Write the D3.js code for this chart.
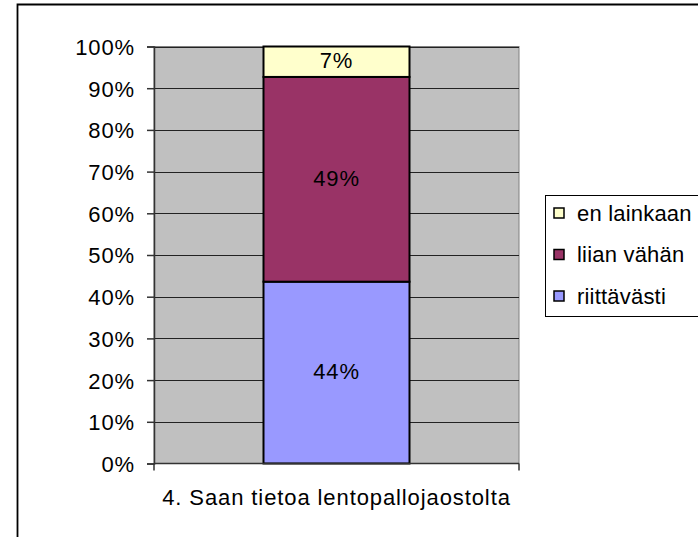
<!DOCTYPE html>
<html lang="fi">
<head>
<meta charset="utf-8">
<title>Saan tietoa lentopallojaostolta</title>
<script src="https://d3js.org/d3.v7.min.js"></script>
<style>
  body { margin: 0; background: #fff; }
  text { font-family: "Liberation Sans", Arial, sans-serif; fill: #000; letter-spacing: 0.9px; }
</style>
</head>
<body>
<script>
// data
var categories = ["4. Saan tietoa lentopallojaostolta"];
var seriesNames = ["riittävästi", "liian vähän", "en lainkaan"];
var seriesValues = [43.6, 49.1, 7.3];
var seriesLabels = ["44%", "49%", "7%"];
var seriesColors = ["#9999ff", "#993366", "#ffffcc"];
var yTicks = [0, 10, 20, 30, 40, 50, 60, 70, 80, 90, 100];

var width = 698, height = 537;
var plot = { left: 154, right: 519, top: 46.5, bottom: 463.5 };
var fs = 22;

var svg = d3.select("body").append("svg")
  .attr("width", width)
  .attr("height", height);

// outer frame
svg.append("path")
  .attr("d", "M17.5," + height + "V4.5H" + width)
  .attr("fill", "none")
  .attr("stroke", "#000")
  .attr("stroke-width", 1.8);

var x = d3.scaleBand()
  .domain(categories)
  .range([plot.left, plot.right])
  .paddingInner(0.6)
  .paddingOuter(0.3);

var y = d3.scaleLinear()
  .domain([0, 100])
  .range([plot.bottom, plot.top]);

// plot area
svg.append("rect")
  .attr("x", plot.left)
  .attr("y", plot.top)
  .attr("width", plot.right - plot.left)
  .attr("height", plot.bottom - plot.top)
  .attr("fill", "#c0c0c0")
  .attr("stroke", "#808080");

// gridlines
svg.append("g").selectAll("line")
  .data(yTicks.filter(function(d) { return d > 0; }))
  .enter().append("line")
  .attr("x1", plot.left)
  .attr("x2", plot.right)
  .attr("y1", function(d) { return Math.round(y(d)) + 0.5; })
  .attr("y2", function(d) { return Math.round(y(d)) + 0.5; })
  .attr("stroke", "#222")
  .attr("stroke-width", 1);

// stacked bars
var stackData = [{}];
seriesNames.forEach(function(n, i) { stackData[0][n] = seriesValues[i]; });
var stack = d3.stack().keys(seriesNames)(stackData);

var bars = svg.append("g");
stack.forEach(function(s, i) {
  var d = s[0];
  bars.append("rect")
    .attr("x", x(categories[0]))
    .attr("width", x.bandwidth())
    .attr("y", y(d[1]))
    .attr("height", y(d[0]) - y(d[1]))
    .attr("fill", seriesColors[i])
    .attr("stroke", "#000")
    .attr("stroke-width", 2);
  bars.append("text")
    .attr("x", x(categories[0]) + x.bandwidth() / 2)
    .attr("y", y((d[0] + d[1]) / 2))
    .attr("dy", "0.3em")
    .attr("text-anchor", "middle")
    .attr("font-size", fs)
    .text(seriesLabels[i]);
});

// y axis
var yAxis = svg.append("g")
  .attr("transform", "translate(" + plot.left + ",0)")
  .call(d3.axisLeft(y).tickValues(yTicks).tickSize(7).tickPadding(12)
    .tickFormat(function(d) { return d + "%"; }));
yAxis.selectAll("text").attr("font-size", fs).attr("dy", "0.36em")
  .style("font-family", "Liberation Sans, Arial, sans-serif");
yAxis.selectAll("line, path").attr("stroke", "#333").attr("stroke-width", 1.5);

// x axis
var xAxis = svg.append("g")
  .attr("transform", "translate(0," + plot.bottom + ")");
xAxis.append("line")
  .attr("x1", plot.left).attr("x2", plot.right)
  .attr("stroke", "#333").attr("stroke-width", 1.5);
xAxis.selectAll(".tk")
  .data([plot.left, plot.right])
  .enter().append("line")
  .attr("x1", function(d) { return d; })
  .attr("x2", function(d) { return d; })
  .attr("y1", 0).attr("y2", 7)
  .attr("stroke", "#333").attr("stroke-width", 1.5);
xAxis.append("text")
  .attr("x", x(categories[0]) + x.bandwidth() / 2)
  .attr("y", 41.5)
  .attr("text-anchor", "middle")
  .attr("font-size", fs)
  .text(categories[0]);

// legend
var legend = svg.append("g");
legend.append("rect")
  .attr("x", 545.5).attr("y", 195.5)
  .attr("width", 170).attr("height", 121)
  .attr("fill", "#fff")
  .attr("stroke", "#000");
var order = [2, 1, 0];
order.forEach(function(si, row) {
  var cy = 213 + row * 41.5;
  legend.append("rect")
    .attr("x", 554).attr("y", cy - 5)
    .attr("width", 10).attr("height", 10)
    .attr("fill", seriesColors[si])
    .attr("stroke", "#000")
    .attr("stroke-width", 1.5);
  legend.append("text")
    .attr("x", 577)
    .attr("y", cy)
    .attr("dy", "0.35em")
    .attr("font-size", fs)
    .style("letter-spacing", "0.2px")
    .text(seriesNames[si]);
});
</script>
</body>
</html>
